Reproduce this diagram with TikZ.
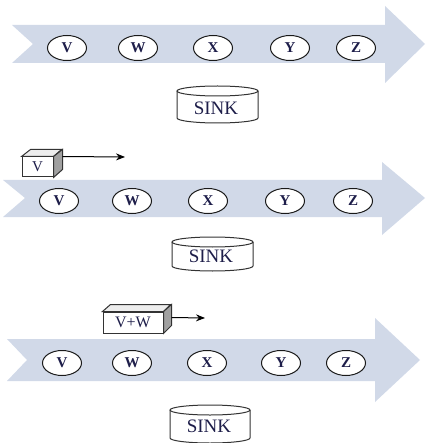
\documentclass[tikz,border=0pt]{standalone}
\usepackage{fontspec}
\setmainfont{Liberation Serif}
\usepackage{tikz}
\usetikzlibrary{shapes.geometric,calc,arrows.meta}

\definecolor{flow}{HTML}{D1D9E8}
\definecolor{ink}{HTML}{1E1E4A}
\definecolor{side}{HTML}{A0A0A0}
\definecolor{lid}{HTML}{EDEDED}

\tikzset{
  hop/.style={ellipse,draw=black!90,line width=1pt,fill=white,minimum width=39pt,minimum height=25pt,inner sep=0pt,
    text=ink,font=\fontsize{15}{16}\selectfont\bfseries},
  pkt/.style={draw=black!80,line width=1pt,fill=white,inner sep=0pt,text=ink},
  face/.style={draw=black!80,line width=1pt},
  can/.style={draw=black!80,line width=1pt,fill=white},
  sinklabel/.style={text=ink,font=\fontsize{19}{20}\selectfont,inner sep=0pt}
}

\begin{document}
\begin{tikzpicture}[x=1pt,y=-1pt]
    \useasboundingbox (0,0) rectangle (426,443);

    % flow arrows
    \fill[flow] (12,25) -- (385,25) -- (385,6) -- (425,44) -- (385,83) -- (385,63) -- (12,63) -- (33,44) -- cycle;
    \fill[flow] (3,180) -- (382,180) -- (382,162) -- (425,198) -- (382,235) -- (382,217) -- (3,217) -- (25,198) -- cycle;
    \fill[flow] (7,339) -- (375,339) -- (375,318) -- (420,360) -- (375,402) -- (375,381) -- (7,381) -- (27,360) -- cycle;

    % sensor nodes
    \node[hop](v1)at(67,48){V};
    \node[hop](w1)at(138,48){W};
    \node[hop](x1)at(213,48){X};
    \node[hop](y1)at(290,48){Y};
    \node[hop](z1)at(356,48){Z};

    \node[hop](v2)at(59,201){V};
    \node[hop](w2)at(132,201){W};
    \node[hop](x2)at(208,201){X};
    \node[hop](y2)at(285,201){Y};
    \node[hop](z2)at(353,201){Z};

    \node[hop](v3)at(62,363){V};
    \node[hop](w3)at(132,363){W};
    \node[hop](x3)at(207,363){X};
    \node[hop](y3)at(281,363){Y};
    \node[hop](z3)at(346,363){Z};

    % sinks
    \draw[can] (177,91) -- (177,118) arc(180:0:40.5 and 5) -- (258,91);
    \draw[can] (217.5,91) ellipse (40.5 and 5);
    \node[sinklabel](sink1)at(216,108){SINK};

    \draw[can] (172,242) -- (172,266) arc(180:0:40.5 and 5) -- (253,242);
    \draw[can] (212.5,242) ellipse (40.5 and 5);
    \node[sinklabel](sink2)at(211,256){SINK};

    \draw[can] (170,410) -- (170,438) arc(180:0:40 and 5) -- (250,410);
    \draw[can] (210,410) ellipse (40 and 5);
    \node[sinklabel](sink3)at(209,426){SINK};

    % aggregated packets
    \node[pkt,minimum width=31pt,minimum height=20pt,font=\fontsize{15}{16}\selectfont](pktv)at(37.5,167){V};
    \draw[face,fill=lid] (pktv.north west) -- ++(9,-7) -- ++(31,0) -- (pktv.north east) -- cycle;
    \draw[face,fill=side] (pktv.north east) -- ++(9,-7) -- ++(0,20) -- (pktv.south east) -- cycle;
    \coordinate (pktvout) at ($(pktv.north east)+(9,0)$);
    \coordinate (pktvend) at (125,157);
    \draw[line width=1pt,-{Stealth[length=9pt,width=7pt]}] (pktvout) -- (pktvend);

    \node[pkt,minimum width=60pt,minimum height=21pt,font=\fontsize{16}{17}\selectfont](pktvw)at(133,322.5){V+W};
    \draw[face,fill=lid] (pktvw.north west) -- ++(8,-7) -- ++(60,0) -- (pktvw.north east) -- cycle;
    \draw[face,fill=side] (pktvw.north east) -- ++(8,-7) -- ++(0,21) -- (pktvw.south east) -- cycle;
    \coordinate (pktvwout) at ($(pktvw.north east)+(8,6)$);
    \coordinate (pktvwend) at (205,318);
    \draw[line width=1pt,-{Stealth[length=9pt,width=7pt]}] (pktvwout) -- (pktvwend);
  \end{tikzpicture}
\end{document}
